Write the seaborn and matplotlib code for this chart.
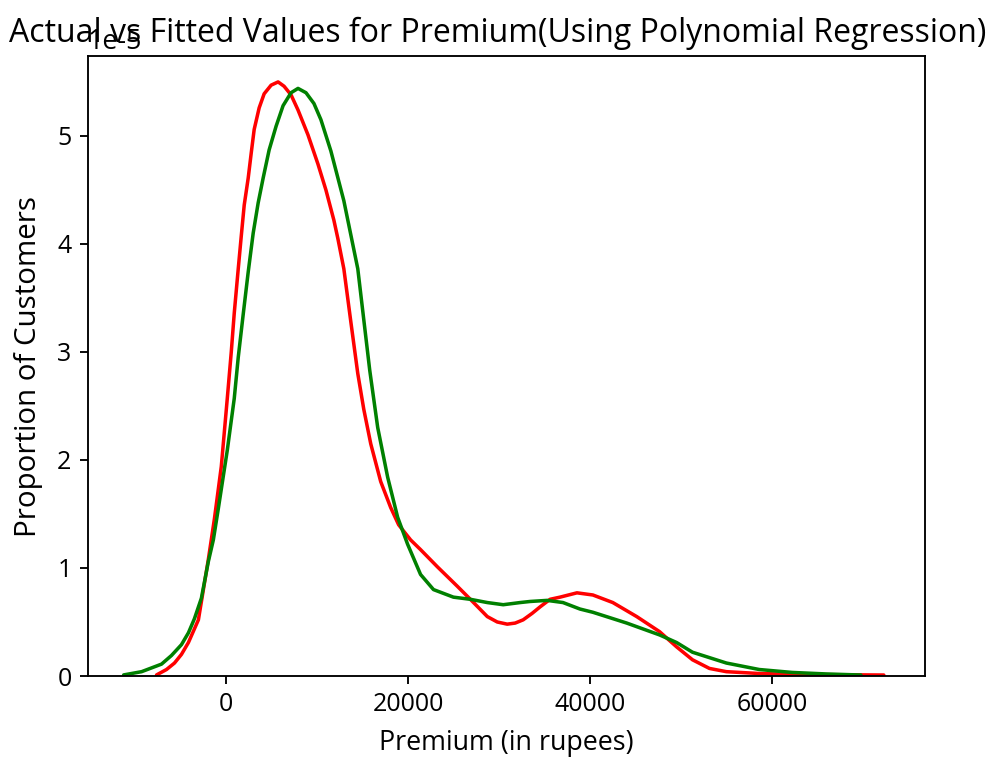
import matplotlib
matplotlib.use("Agg")
import matplotlib.pyplot as plt
import seaborn as sns
import pandas as pd

# Density curves of the actual and fitted premium (density in units of 1e-5)
actual_premium = [-7665, -6570, -5694, -4928, -4161, -3066, -1971, -1314, -548, 110,
                  548, 876, 1314, 1643, 1971, 2409, 2738, 3066, 3614, 4161,
                  4928, 5694, 6351, 7118, 7884, 8979, 10074, 10950, 11826, 12264,
                  12921, 13688, 14454, 15111, 15878, 16973, 18068, 18944, 20258,
                  21353, 23214, 25404, 26828, 28689, 29784, 30879, 31755, 32631,
                  33617, 34493, 35588, 36683, 38544, 40296, 42486, 45114, 47633,
                  49494, 51246, 53108, 54969, 58583, 62963, 72270]
actual_density = [0.01, 0.06, 0.12, 0.20, 0.31, 0.52, 1.08, 1.45, 1.94, 2.57,
                  3.00, 3.36, 3.77, 4.07, 4.36, 4.61, 4.84, 5.06, 5.26, 5.39,
                  5.47, 5.50, 5.46, 5.38, 5.24, 5.01, 4.74, 4.50, 4.22, 4.05,
                  3.77, 3.28, 2.80, 2.47, 2.15, 1.80, 1.56, 1.40, 1.26,
                  1.17, 1.01, 0.83, 0.71, 0.55, 0.50, 0.48, 0.49, 0.52,
                  0.58, 0.64, 0.71, 0.73, 0.77, 0.75, 0.68, 0.55, 0.41,
                  0.27, 0.15, 0.07, 0.04, 0.023, 0.014, 0.009]

fitted_premium = [-11279, -9308, -7118, -6023, -4928, -4161, -3504, -2738, -1971, -1424,
                  -876, -329, 110, 876, 1314, 1862, 2409, 2957, 3504, 4052,
                  4709, 5475, 6242, 7118, 7884, 8760, 9636, 10403, 11498, 12921,
                  14454, 15768, 16644, 17739, 18834, 19929, 21353, 22776, 24966,
                  26828, 28689, 30441, 32303, 33398, 35259, 37011, 38873, 40296,
                  44019, 47633, 49494, 51246, 53108, 54969, 58583, 62196, 65919, 69752]
fitted_density = [0.01, 0.04, 0.11, 0.19, 0.29, 0.40, 0.53, 0.72, 1.06, 1.26,
                  1.55, 1.85, 2.09, 2.57, 2.95, 3.35, 3.74, 4.10, 4.38, 4.61,
                  4.87, 5.09, 5.28, 5.40, 5.44, 5.40, 5.30, 5.15, 4.86, 4.40,
                  3.77, 2.83, 2.30, 1.84, 1.47, 1.22, 0.94, 0.80, 0.73,
                  0.71, 0.68, 0.66, 0.68, 0.69, 0.70, 0.68, 0.62, 0.59,
                  0.49, 0.38, 0.31, 0.22, 0.17, 0.12, 0.06, 0.033, 0.019, 0.009]

scale = 1e-5
actual_df = pd.DataFrame({"Premium": actual_premium,
                          "Density": [v * scale for v in actual_density]})
fitted_df = pd.DataFrame({"Premium": fitted_premium,
                          "Density": [v * scale for v in fitted_density]})

plt.rcParams["font.family"] = ["Open Sans", "DejaVu Sans"]
plt.rcParams["axes.unicode_minus"] = False

dpi = 168.7
fig = plt.figure(figsize=(1003 / dpi, 768 / dpi), dpi=dpi)
ax = fig.add_axes([88 / 1003, 1 - 676 / 768, (925 - 88) / 1003, (676 - 56) / 768])

line_kw = dict(sort=False, linewidth=1.5, solid_joinstyle="round",
               solid_capstyle="round", ax=ax)
sns.lineplot(data=actual_df, x="Premium", y="Density", color="r",
             label="Actual Values", **line_kw)
sns.lineplot(data=fitted_df, x="Premium", y="Density", color="g",
             label="Fitted Values", **line_kw)

ax.set_ylim(0, 5.74e-5)
ax.set_xlim(-15200, 76800)
ax.set_xticks([0, 20000, 40000, 60000])
ax.get_legend().remove()
ax.tick_params(labelsize=10.7)
ax.yaxis.get_offset_text().set_fontsize(11.5)

ax.set_title("Actual vs Fitted Values for Premium(Using Polynomial Regression)",
             fontsize=13.7, x=0.489, y=1.0)
ax.set_xlabel("Premium (in rupees)", fontsize=11.5, labelpad=5)
ax.set_ylabel("Proportion of Customers", fontsize=12.6, labelpad=6)

fig.savefig("out.png", dpi=dpi)
